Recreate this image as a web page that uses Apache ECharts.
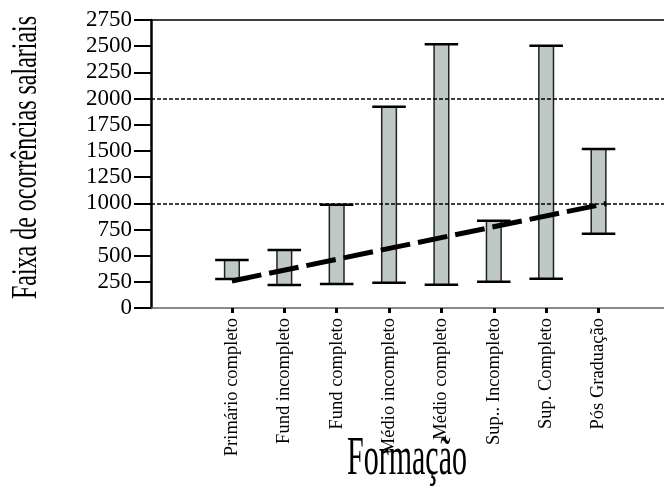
<!DOCTYPE html>
<html>
<head>
<meta charset="utf-8">
<script src="https://cdn.jsdelivr.net/npm/echarts@6/dist/echarts.min.js"></script>
<style>html,body{margin:0;padding:0;background:#fff}#c{width:664px;height:492px}</style>
</head>
<body>
<div id="c"></div>
<script>
var categories = ['Primário completo','Fund incompleto','Fund completo','Médio incompleto','Médio completo','Sup.. Incompleto','Sup. Completo','Pós Graduação'];
var lowValues  = [277, 220, 229, 242, 222, 251, 280, 709];
var highValues = [458, 554, 986, 1922, 2518, 834, 2505, 1518];
var trendX = [0, 7.15];
var trendY = [258, 998];
var refLines = [1000, 2000];
var yTicks = {min: 0, max: 2750, interval: 250};
var xTitle = 'Formação';
var yTitle = 'Faixa de ocorrências salariais';

var FONT = 'Liberation Serif, Times New Roman, serif';
var idx = categories.map(function (c, i) { return i; });
var rangeData = categories.map(function (c, i) { return [i, lowValues[i], highValues[i]]; });
var trendData = trendX.map(function (x, i) { return [x, trendY[i]]; });

var chart = echarts.init(document.getElementById('c'), null, {renderer: 'canvas'});
chart.setOption({
  animation: false,
  backgroundColor: '#fff',
  grid: {left: 151, right: 0, top: 20, bottom: 184, containLabel: false, outerBoundsMode: 'none'},
  graphic: [
    {type: 'text', x: 407, y: 459.5, scaleY: 1.85, z: 10,
      style: {text: xTitle, font: '30px ' + FONT, fill: '#000', textAlign: 'center', textVerticalAlign: 'middle'}},
    {type: 'text', x: 26.5, y: 157.5, rotation: Math.PI / 2, scaleY: 1.5, z: 10,
      style: {text: yTitle, font: '24px ' + FONT, fill: '#000', textAlign: 'center', textVerticalAlign: 'middle'}}
  ],
  xAxis: [{
    type: 'value', min: -1.545, max: 8.25, position: 'bottom',
    axisLine: {show: true, onZero: false, lineStyle: {color: '#666', width: 1.5}},
    axisTick: {show: true, customValues: idx, length: 5, lineStyle: {color: '#000', width: 3}},
    axisLabel: {show: true, customValues: idx, rotate: 90, margin: 10,
      formatter: function (v) { return categories[Math.round(v)]; },
      fontFamily: FONT, fontSize: 18.5, color: '#000'},
    splitLine: {show: false}
  }, {
    type: 'value', min: -1.545, max: 8.25, position: 'top',
    axisLine: {show: true, onZero: false, lineStyle: {color: '#000', width: 1.5}},
    axisTick: {show: false}, axisLabel: {show: false}, splitLine: {show: false}
  }],
  yAxis: {
    type: 'value', min: yTicks.min, max: yTicks.max, interval: yTicks.interval,
    axisLine: {show: true, onZero: false, lineStyle: {color: '#000', width: 2.5}},
    axisTick: {show: true, length: 17, lineStyle: {color: '#000', width: 2}},
    axisLabel: {margin: 19, fontFamily: FONT, fontSize: 23, color: '#000',
      formatter: function (v) { return String(v); }},
    splitLine: {show: false}
  },
  series: [{
    type: 'custom',
    data: rangeData,
    renderItem: function (params, api) {
      var x = api.value(0);
      var top = api.coord([x, api.value(2)]);
      var bot = api.coord([x, api.value(1)]);
      var unit = api.size([1, 0])[0];
      var bw = unit * 0.14, cw = unit * 0.32;
      return {
        type: 'group',
        children: [
          {type: 'rect', shape: {x: top[0] - bw, y: top[1], width: bw * 2, height: bot[1] - top[1]},
            style: {fill: '#bec8c4', stroke: '#222', lineWidth: 1.5}},
          {type: 'line', shape: {x1: top[0] - cw, y1: top[1], x2: top[0] + cw, y2: top[1]},
            style: {stroke: '#000', lineWidth: 2.5}},
          {type: 'line', shape: {x1: bot[0] - cw, y1: bot[1], x2: bot[0] + cw, y2: bot[1]},
            style: {stroke: '#000', lineWidth: 2.5}}
        ]
      };
    }
  }, {
    type: 'line',
    data: trendData,
    showSymbol: false,
    lineStyle: {color: '#000', width: 5, type: [30, 8]},
    z: 5,
    markLine: {
      silent: true, symbol: 'none', label: {show: false},
      lineStyle: {color: '#000', width: 1.6, type: [4, 2]},
      data: refLines.map(function (v) { return {yAxis: v}; })
    }
  }]
});
</script>
</body>
</html>
